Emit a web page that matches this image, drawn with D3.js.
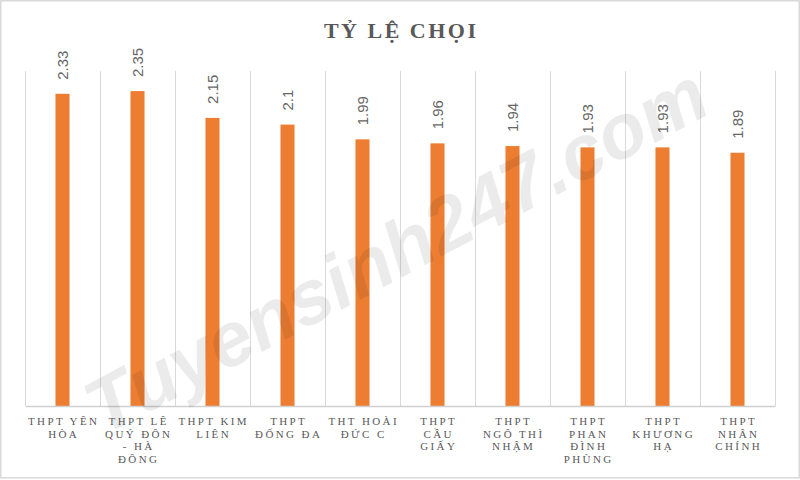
<!DOCTYPE html>
<html>
<head>
<meta charset="utf-8">
<script src="https://cdn.jsdelivr.net/npm/d3@7"></script>
<style>
  html, body { margin: 0; padding: 0; background: #fff; }
  svg { display: block; }
</style>
</head>
<body>
<svg id="chart" width="800" height="480"></svg>
<script>
// ---- DATA ----
const title = "TỶ LỆ CHỌI";
const categories = [
  "THPT YÊN\nHÒA",
  "THPT LÊ\nQUÝ ĐÔN\n- HÀ\nĐÔNG",
  "THPT KIM\nLIÊN",
  "THPT\nĐỐNG ĐA",
  "THT HOÀI\nĐỨC C",
  "THPT\nCẦU\nGIẤY",
  "THPT\nNGÔ THÌ\nNHẬM",
  "THPT\nPHAN\nĐÌNH\nPHÙNG",
  "THPT\nKHƯƠNG\nHẠ",
  "THPT\nNHÂN\nCHÍNH"
];
const values = [2.33, 2.35, 2.15, 2.1, 1.99, 1.96, 1.94, 1.93, 1.93, 1.89];
const valueLabels = ["2.33", "2.35", "2.15", "2.1", "1.99", "1.96", "1.94", "1.93", "1.93", "1.89"];
const watermark = "Tuyensinh247.com";

// ---- LAYOUT ----
const svg = d3.select("#chart");
const W = 800, H = 480;
const plot = { left: 25, right: 775, top: 71, bottom: 406 };

svg.append("rect")
  .attr("x", 0.75).attr("y", 0.75).attr("width", W - 1.5).attr("height", 477)
  .attr("fill", "#fff").attr("stroke", "#d9d9d9").attr("stroke-width", 1.5);

const x = d3.scaleBand()
  .domain(d3.range(categories.length))
  .range([plot.left, plot.right])
  .paddingInner(0.813)
  .paddingOuter(0.4065);

const y = d3.scaleLinear().domain([0, 2.5]).range([plot.bottom, plot.top]);

// vertical gridlines at category boundaries
const step = x.step();
const bounds = d3.range(categories.length + 1).map(i => plot.left + i * step);
svg.append("g").selectAll("line").data(bounds).join("line")
  .attr("x1", d => Math.round(d) + 0.5).attr("x2", d => Math.round(d) + 0.5)
  .attr("y1", plot.top).attr("y2", plot.bottom)
  .attr("stroke", "#d9d9d9").attr("stroke-width", 1);

// bars
svg.append("g").selectAll("rect").data(values).join("rect")
  .attr("x", (d, i) => x(i))
  .attr("width", x.bandwidth())
  .attr("y", d => y(d))
  .attr("height", d => y(0) - y(d))
  .attr("fill", "#ED7D31");

// baseline axis
const xAxis = d3.axisBottom(x).tickSize(0).tickFormat("");
const axisG = svg.append("g").attr("transform", `translate(0,${plot.bottom})`).call(xAxis);
axisG.select(".domain").attr("stroke", "#d0d0d0").attr("stroke-width", 1.5);

// value labels (rotated)
svg.append("g").selectAll("text").data(values).join("text")
  .attr("transform", (d, i) => `translate(${x(i) + x.bandwidth() / 2 + 5.5},${y(d) - 14}) rotate(-90)`)
  .attr("text-anchor", "start")
  .attr("font-family", "'Liberation Sans', Arial, sans-serif")
  .attr("font-size", 15)
  .attr("fill", "#666")
  .text((d, i) => valueLabels[i]);

// category labels
const ls = 2.4;
const catG = svg.append("g");
categories.forEach((c, i) => {
  const t = catG.append("text")
    .attr("text-anchor", "middle")
    .attr("font-family", "'Liberation Serif', 'Times New Roman', serif")
    .attr("font-size", 11)
    .attr("letter-spacing", ls)
    .attr("fill", "#595959");
  c.split("\n").forEach((line, j) => {
    t.append("tspan")
      .attr("x", x(i) + x.bandwidth() / 2 + ls / 2)
      .attr("y", 425 + j * 12.7)
      .text(line);
  });
});

// title
svg.append("text")
  .attr("x", W / 2 + 1.2).attr("y", 38)
  .attr("text-anchor", "middle")
  .attr("font-family", "'Liberation Serif', 'Times New Roman', serif")
  .attr("font-weight", "bold")
  .attr("font-size", 22)
  .attr("letter-spacing", 2.5)
  .attr("fill", "#595959")
  .text(title);

// watermark
svg.append("text")
  .attr("transform", "translate(399,256) rotate(-28)")
  .attr("text-anchor", "middle")
  .attr("dominant-baseline", "middle")
  .attr("font-family", "'Liberation Sans', Arial, sans-serif")
  .attr("font-weight", "bold")
  .attr("font-style", "italic")
  .attr("font-size", 77)
  .attr("fill", "#000")
  .attr("fill-opacity", 0.08)
  .text(watermark);
</script>
</body>
</html>
